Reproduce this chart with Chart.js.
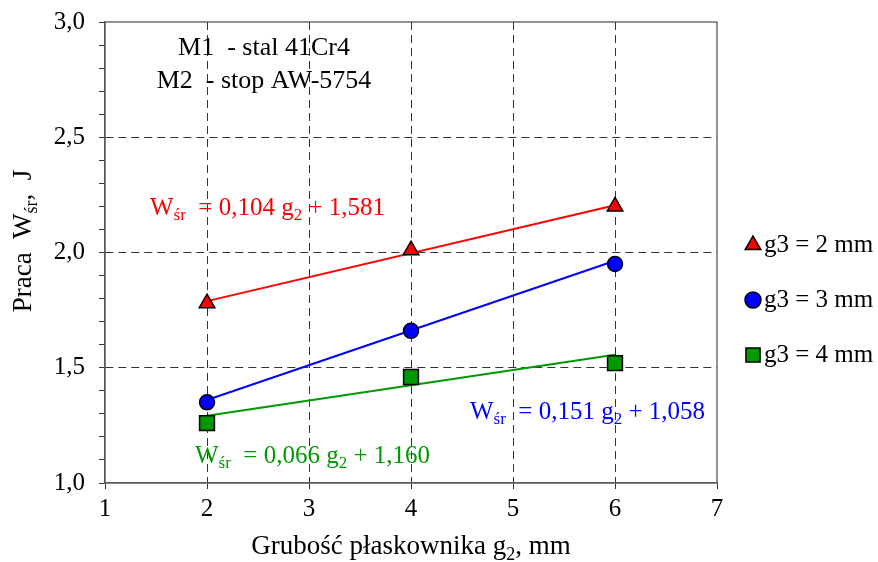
<!DOCTYPE html>
<html>
<head>
<meta charset="utf-8">
<script src="https://cdn.jsdelivr.net/npm/chart.js@4/dist/chart.umd.min.js"></script>
<style>
  html, body { margin: 0; padding: 0; background: #fff; }
  #wrap { width: 878px; height: 562px; }
</style>
</head>
<body>
<div id="wrap"><canvas id="wykres" width="878" height="562"></canvas></div>
<script>
// grubość płaskownika g2, mm
const grubosc = [2, 4, 6];
const serie = ['g3 = 2 mm', 'g3 = 3 mm', 'g3 = 4 mm'];
const praca_g3_2 = [1.78, 2.01, 2.20];
const praca_g3_3 = [1.35, 1.66, 1.95];
const praca_g3_4 = [1.26, 1.46, 1.52];
// równania trendu W_śr = a g2 + b
const wspA = [0.104, 0.151, 0.066];
const wspB = [1.581, 1.058, 1.160];
const xTicki = [1, 2, 3, 4, 5, 6, 7];
const yTicki = [1.0, 1.5, 2.0, 2.5, 3.0];

const kolory = ['#ff0000', '#0000ff', '#009900'];
const znaczniki = ['triangle', 'circle', 'rect'];
const rozmiary = [9, 7.5, 10.5];
const FONT = "'Liberation Serif', 'Times New Roman', serif";

const wartosci = [praca_g3_2, praca_g3_3, praca_g3_4];

const datasets = [];
wartosci.forEach((w, i) => {
  datasets.push({
    label: serie[i],
    data: grubosc.map((g, k) => ({ x: g, y: w[k] })),
    pointStyle: znaczniki[i],
    pointRadius: rozmiary[i],
    pointHoverRadius: rozmiary[i],
    backgroundColor: kolory[i],
    borderColor: '#000',
    pointBorderWidth: 1.5,
    showLine: false,
    order: 0
  });
});
wartosci.forEach((w, i) => {
  const x0 = grubosc[0], x1 = grubosc[grubosc.length - 1];
  datasets.push({
    label: 'trend ' + serie[i],
    data: [{ x: x0, y: wspA[i] * x0 + wspB[i] }, { x: x1, y: wspA[i] * x1 + wspB[i] }],
    showLine: true,
    borderColor: kolory[i],
    borderWidth: 2,
    pointRadius: 0,
    order: 1
  });
});

// tekst z indeksami dolnymi
function rysujTekst(ctx, czesci, x, y, rozm, kolor, align) {
  const sub = Math.round(rozm * 0.66);
  let szer = 0;
  czesci.forEach(c => {
    ctx.font = (c.sub ? sub : rozm) + 'px ' + FONT;
    szer += ctx.measureText(c.t).width;
  });
  let px = align === 'center' ? x - szer / 2 : x;
  ctx.fillStyle = kolor;
  ctx.textBaseline = 'middle';
  ctx.textAlign = 'left';
  czesci.forEach(c => {
    ctx.font = (c.sub ? sub : rozm) + 'px ' + FONT;
    ctx.fillText(c.t, px, y + (c.sub ? rozm * 0.3 : 0));
    px += ctx.measureText(c.t).width;
  });
}

function rownanie(i) {
  const f = v => v.toFixed(3).replace('.', ',');
  return [{ t: 'W' }, { t: 'śr', sub: true }, { t: '  = ' + f(wspA[i]) + ' g' }, { t: '2', sub: true }, { t: ' + ' + f(wspB[i]) }];
}

const opisy = {
  id: 'opisy',
  afterDraw(chart) {
    const ctx = chart.ctx;
    const a = chart.chartArea;
    ctx.save();
    // ramka wykresu
    ctx.strokeStyle = '#595959';
    ctx.lineWidth = 1.3;
    ctx.strokeRect(a.left, a.top, a.right - a.left, a.bottom - a.top);

    rysujTekst(ctx, [{ t: 'M1  - stal 41Cr4' }], 264, 48, 26, '#000', 'center');
    rysujTekst(ctx, [{ t: 'M2  - stop AW-5754' }], 264, 81, 26, '#000', 'center');

    rysujTekst(ctx, rownanie(0), 150, 208, 25, kolory[0], 'left');
    rysujTekst(ctx, rownanie(1), 470, 412, 25, kolory[1], 'left');
    rysujTekst(ctx, rownanie(2), 195, 456, 25, kolory[2], 'left');

    // tytuły osi
    rysujTekst(ctx, [{ t: 'Grubość płaskownika g' }, { t: '2', sub: true }, { t: ', mm' }], (a.left + a.right) / 2, 547, 27, '#000', 'center');
    ctx.save();
    ctx.translate(24, 241);
    ctx.rotate(-Math.PI / 2);
    rysujTekst(ctx, [{ t: 'Praca  W' }, { t: 'śr', sub: true }, { t: ',  J' }], 0, 0, 27, '#000', 'center');
    ctx.restore();

    // legenda
    const ly = [245, 300, 355];
    serie.forEach((s, i) => {
      ctx.fillStyle = kolory[i];
      ctx.strokeStyle = '#000';
      ctx.lineWidth = 1.5;
      Chart.helpers.drawPoint(ctx, { pointStyle: znaczniki[i], radius: [9, 8, 10][i], rotation: 0, borderWidth: 1.5 }, 753, ly[i]);
      rysujTekst(ctx, [{ t: s }], 764, ly[i], 25, '#000', 'left');
    });
    ctx.restore();
  }
};

const kreska = [8, 5];
const glowna = v => yTicki.some(t => Math.abs(t - v) < 1e-6);
const bezMarginesu = s => { s.paddingTop = 0; s.paddingBottom = 0; s.paddingLeft = 0; s.paddingRight = 0; };

new Chart(document.getElementById('wykres'), {
  type: 'scatter',
  data: { datasets },
  options: {
    responsive: false,
    animation: false,
    layout: { padding: { top: 22, right: 161, bottom: 0, left: 0 } },
    plugins: { legend: { display: false }, tooltip: { enabled: false } },
    scales: {
      x: {
        type: 'linear',
        min: xTicki[0],
        max: xTicki[xTicki.length - 1],
        afterBuildTicks: s => { s.ticks = xTicki.map(v => ({ value: v })); },
        afterFit: s => { s.height = 79; bezMarginesu(s); },
        ticks: {
          color: '#000',
          font: { family: FONT, size: 25 },
          padding: 5,
          maxRotation: 0,
          callback: v => String(v)
        },
        grid: {
          color: c => (c.tick && (c.tick.value === xTicki[0] || c.tick.value === xTicki[xTicki.length - 1])) ? 'rgba(0,0,0,0)' : '#333',
          tickColor: '#333',
          tickLength: 6,
          lineWidth: 1
        },
        border: { color: '#595959', width: 1.3, dash: kreska }
      },
      y: {
        type: 'linear',
        min: yTicki[0],
        max: yTicki[yTicki.length - 1],
        afterBuildTicks: s => {
          const t = [];
          for (let k = 0; k <= 20; k++) t.push({ value: Math.round((yTicki[0] + k * 0.1) * 10) / 10 });
          s.ticks = t;
        },
        afterFit: s => { s.width = 105; bezMarginesu(s); },
        ticks: {
          color: '#000',
          font: { family: FONT, size: 25 },
          padding: 14,
          autoSkip: false,
          callback: v => glowna(v) ? v.toFixed(1).replace('.', ',') : ''
        },
        grid: {
          color: c => (c.tick && glowna(c.tick.value) && c.tick.value !== yTicki[0] && c.tick.value !== yTicki[yTicki.length - 1]) ? '#333' : 'rgba(0,0,0,0)',
          tickColor: '#333',
          tickLength: 6,
          lineWidth: 1
        },
        border: { color: '#595959', width: 1.3, dash: kreska }
      }
    }
  },
  plugins: [opisy]
});
</script>
</body>
</html>
